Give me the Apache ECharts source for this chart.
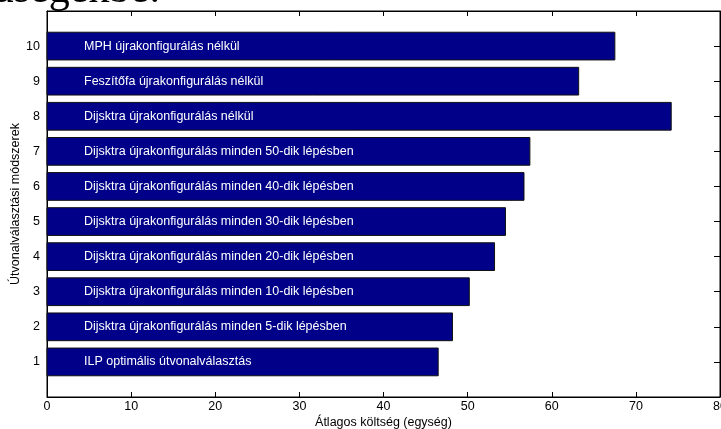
<!DOCTYPE html>
<html>
<head>
<meta charset="utf-8">
<script src="https://cdn.jsdelivr.net/npm/echarts@6/dist/echarts.min.js"></script>
<style>
html,body{margin:0;padding:0;background:#fff;}
#chart{width:721px;height:429px;}
</style>
</head>
<body>
<div id="chart"></div>
<script>
// Method index (y position) and method names drawn inside each bar
const methodIndex = [1, 2, 3, 4, 5, 6, 7, 8, 9, 10];
const methodNames = [
  'ILP optimális útvonalválasztás',
  'Dijsktra újrakonfigurálás minden 5-dik lépésben',
  'Dijsktra újrakonfigurálás minden 10-dik lépésben',
  'Dijsktra újrakonfigurálás minden 20-dik lépésben',
  'Dijsktra újrakonfigurálás minden 30-dik lépésben',
  'Dijsktra újrakonfigurálás minden 40-dik lépésben',
  'Dijsktra újrakonfigurálás minden 50-dik lépésben',
  'Dijsktra újrakonfigurálás nélkül',
  'Feszítőfa újrakonfigurálás nélkül',
  'MPH újrakonfigurálás nélkül'
];
// Average cost per method
const avgCost = [46.5, 48.2, 50.2, 53.2, 54.5, 56.7, 57.4, 74.2, 63.2, 67.5];
const xTicks = [0, 10, 20, 30, 40, 50, 60, 70, 80];

const chart = echarts.init(document.getElementById('chart'), null, {renderer: 'canvas'});
const FONT = '"Liberation Sans", Arial, sans-serif';
const FS = 12.5;
const BAR_FRACTION = 0.79;   // bar thickness relative to one y unit
const LABEL_INSET = 37;      // px from the bar's base to the start of its label

const lineStyle = {color: '#000', width: 1};

function renderBar(params, api) {
  const cost = api.value(0);
  const idx = api.value(1);
  const base = api.coord([0, idx]);
  const end = api.coord([cost, idx]);
  const h = api.size([0, 1])[1] * BAR_FRACTION;
  return {
    type: 'group',
    children: [{
      type: 'rect',
      shape: {x: base[0], y: base[1] - h / 2, width: end[0] - base[0], height: h},
      style: {fill: '#000088', stroke: '#111', lineWidth: 1}
    }, {
      type: 'text',
      x: base[0] + LABEL_INSET, y: base[1],
      style: {
        text: methodNames[params.dataIndex], fill: '#fff',
        font: FS + 'px ' + FONT, verticalAlign: 'middle', align: 'left'
      }
    }]
  };
}

chart.setOption({
  animation: false,
  backgroundColor: '#fff',
  graphic: [{
    type: 'text',
    x: -5, y: 11.5,
    style: {text: 'ásegekbe:', font: '42px "Liberation Serif", "Times New Roman", serif',
      fill: '#000', verticalAlign: 'bottom'}
  }],
  grid: {left: 47, right: 1, top: 11, bottom: 32, show: true, borderColor: '#000', borderWidth: 1,
    containLabel: false, outerBoundsMode: 'none'},
  xAxis: [{
    type: 'value', min: 0, max: 80, interval: 10,
    axisLine: {show: true, onZero: false, lineStyle},
    axisTick: {show: true, inside: true, length: 5, lineStyle},
    splitLine: {show: false},
    axisLabel: {color: '#000', fontFamily: FONT, fontSize: FS, margin: 3,
      formatter: v => xTicks.indexOf(v) >= 0 ? String(v) : ''},
    name: 'Átlagos költség (egység)', nameLocation: 'middle', nameGap: 19,
    nameMoveOverlap: false,
    nameTextStyle: {color: '#000', fontFamily: FONT, fontSize: FS}
  }, {
    type: 'value', position: 'top', min: 0, max: 80, interval: 10,
    axisLine: {show: true, onZero: false, lineStyle},
    axisTick: {show: true, inside: true, length: 5, lineStyle},
    axisLabel: {show: false}, splitLine: {show: false}
  }],
  yAxis: [{
    type: 'value', min: 0, max: 11, interval: 1,
    axisLine: {show: true, onZero: false, lineStyle},
    axisTick: {show: true, inside: true, length: 5, lineStyle},
    splitLine: {show: false},
    axisLabel: {color: '#000', fontFamily: FONT, fontSize: FS, margin: 7,
      formatter: v => (v >= 1 && v <= 10) ? String(v) : ''},
    name: 'Útvonalválasztási módszerek', nameLocation: 'middle', nameGap: 25,
    nameMoveOverlap: false,
    nameTextStyle: {color: '#000', fontFamily: FONT, fontSize: FS}
  }, {
    type: 'value', position: 'right', min: 0, max: 11, interval: 1,
    axisLine: {show: true, onZero: false, lineStyle},
    axisTick: {show: true, inside: true, length: 6, lineStyle},
    axisLabel: {show: false}, splitLine: {show: false}
  }],
  series: [{
    type: 'custom',
    xAxisIndex: 0, yAxisIndex: 0,
    renderItem: renderBar,
    encode: {x: 0, y: 1},
    data: methodIndex.map((m, i) => [avgCost[i], m])
  }]
});
</script>
</body>
</html>
